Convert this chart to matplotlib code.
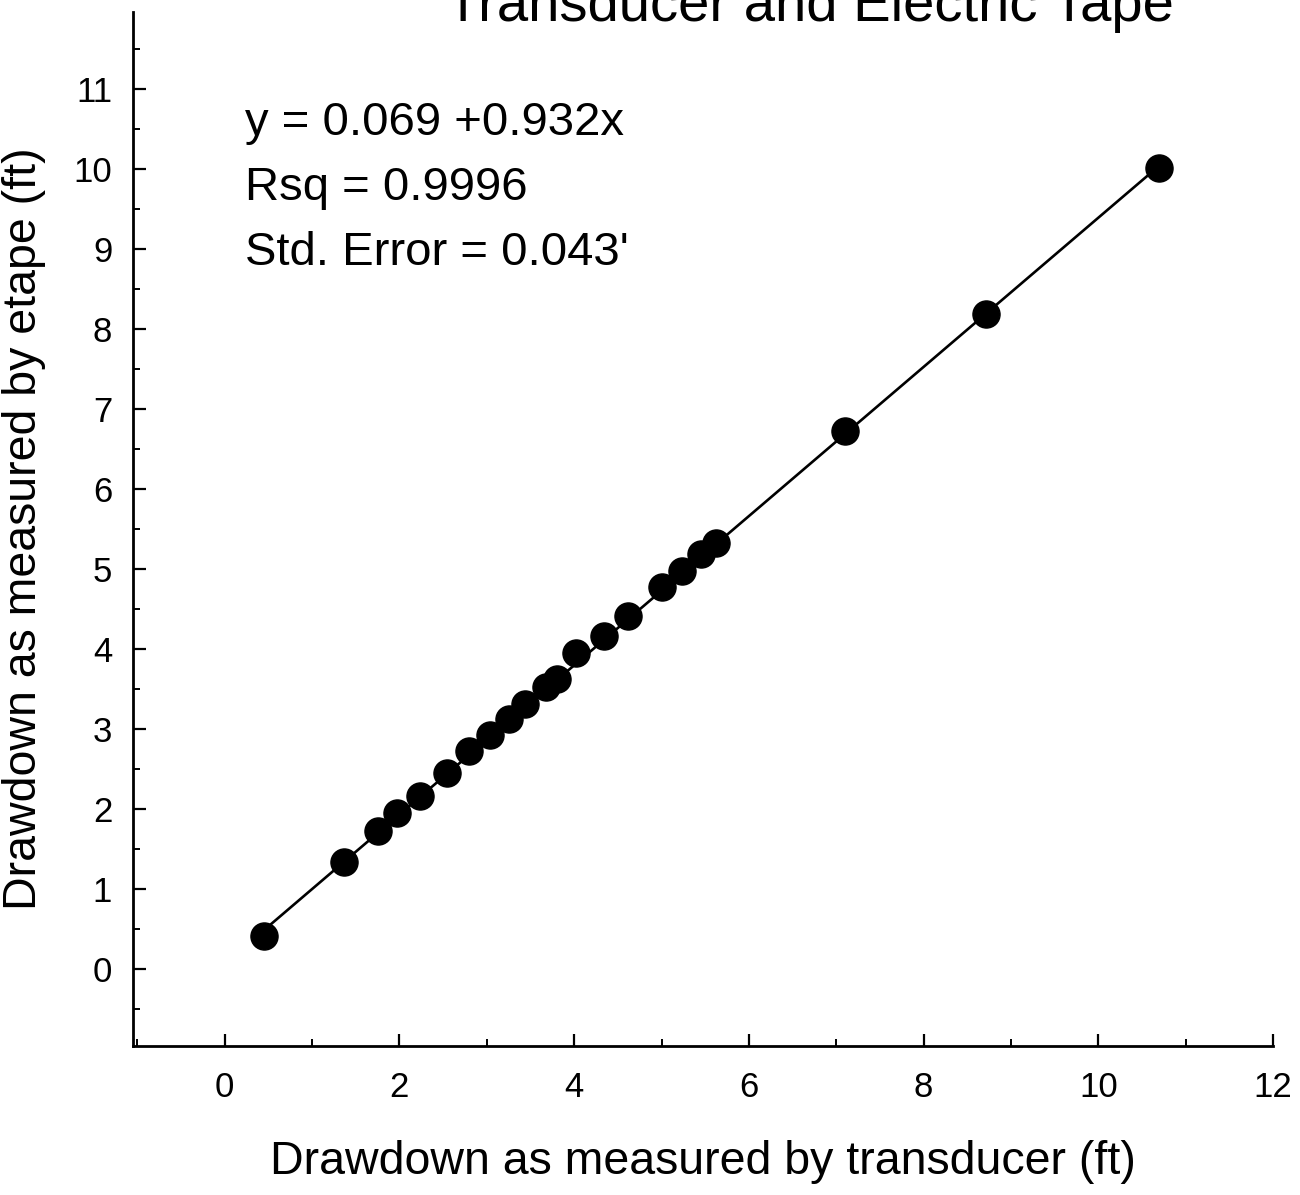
import matplotlib
matplotlib.use("Agg")
import matplotlib.pyplot as plt
import numpy as np
from matplotlib.ticker import MultipleLocator

plt.rcParams['font.family'] = ['Liberation Sans', 'DejaVu Sans']

# Data
transducer_ft = [0.45, 1.37, 1.76, 1.97, 2.23, 2.55, 2.80, 3.04, 3.25, 3.44, 3.68,
                 3.80, 4.02, 4.34, 4.62, 5.01, 5.23, 5.45, 5.62, 7.10, 8.71, 10.70]
etape_ft = [0.41, 1.34, 1.73, 1.95, 2.16, 2.45, 2.73, 2.93, 3.13, 3.31, 3.53,
            3.63, 3.95, 4.16, 4.41, 4.77, 4.97, 5.19, 5.33, 6.72, 8.19, 10.01]
fit_intercept = 0.069
fit_slope = 0.932
annotation_lines = ["y = 0.069 +0.932x", "Rsq = 0.9996", "Std. Error = 0.043'"]
x_ticks = [0, 2, 4, 6, 8, 10, 12]
y_ticks = [0, 1, 2, 3, 4, 5, 6, 7, 8, 9, 10, 11]

W, H = 1300, 1195
fig = plt.figure(figsize=(W / 100, H / 100), dpi=100)
ax = fig.add_axes([133 / W, 1 - 1046 / H, (1273 - 133) / W, (1046 - 12) / H])

x = np.array(transducer_ft)
xl = np.array([x.min(), x.max()])
ax.plot(xl, fit_intercept + fit_slope * xl, color='black', lw=1.9, zorder=2)
ax.plot(transducer_ft, etape_ft, 'o', color='black', markersize=19.5, zorder=3)

ax.set_xlim(-1.05, 12)
ax.set_ylim(-0.96, 11.96)
ax.set_xticks(x_ticks)
ax.set_yticks(y_ticks)
ax.xaxis.set_minor_locator(MultipleLocator(1))
ax.yaxis.set_minor_locator(MultipleLocator(0.5))

for s in ['top', 'right']:
    ax.spines[s].set_visible(False)
for s in ['left', 'bottom']:
    ax.spines[s].set_linewidth(2.0)

ax.tick_params(which='major', direction='in', length=9, width=1.6, labelsize=25)
ax.tick_params(axis='x', which='major', pad=18)
ax.tick_params(axis='y', which='major', pad=15)
ax.tick_params(which='minor', direction='in', length=5, width=1.4)

ax.set_xlabel("Drawdown as measured by transducer (ft)", fontsize=33.5, labelpad=26)
ax.set_ylabel("Drawdown as measured by etape (ft)", fontsize=33.5, labelpad=20)

fig.text(810 / W, 1 - 21 / H, "Transducer and Electric Tape", fontsize=40.5,
         ha='center', va='baseline')

baselines = [135, 200, 265]
for txt, b in zip(annotation_lines, baselines):
    fig.text(245 / W, 1 - b / H, txt, fontsize=34, ha='left', va='baseline')

fig.savefig("out.png", dpi=100)
